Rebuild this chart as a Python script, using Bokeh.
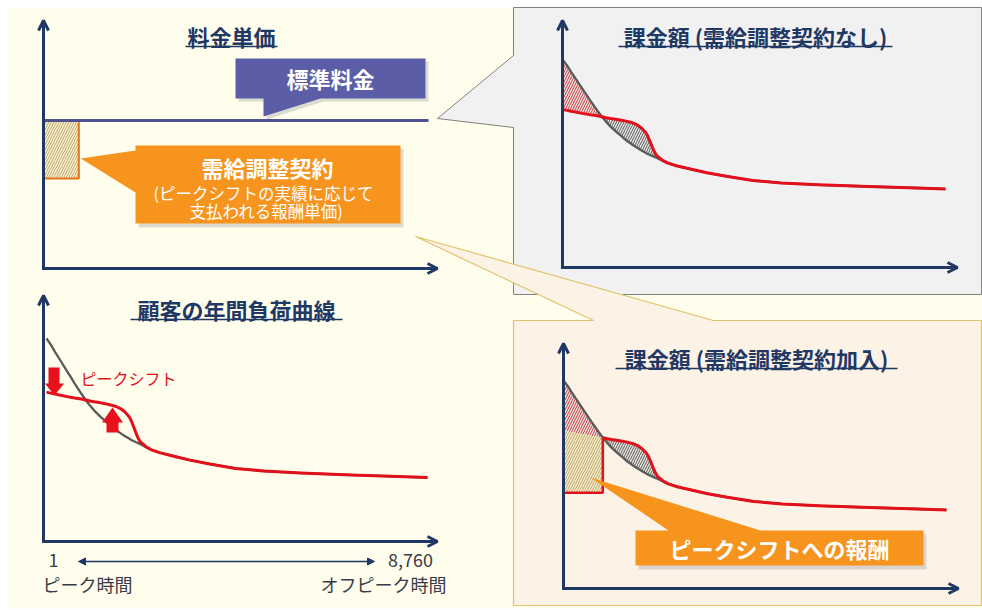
import numpy as np
from bokeh.plotting import figure
from bokeh.models import Range1d, Arrow, OpenHead, NormalHead
from bokeh.core.properties import value
from bokeh.embed import file_html
from bokeh.resources import INLINE

# ---------------- data ----------------
hours = [1, 100, 200, 300, 450, 550, 650, 800, 900, 1000, 1100, 1250, 1350, 1450,
         1600, 1700, 1800, 1900, 1950, 2000, 2050, 2100, 2150, 2300, 2400, 2600,
         2950, 3300, 3750, 4350, 5000, 5850, 7000, 8100, 8760]
load_original = [100, 97.0, 93.3, 89.9, 84.7, 81.3, 77.8, 72.9, 69.7, 67.0, 64.5,
                 61.3, 59.4, 57.4, 54.9, 53.4, 52.0, 50.7, 50.0, 49.5, 49.0, 48.5,
                 48.0, 46.3, 45.3, 43.8, 41.9, 40.1, 38.2, 36.0, 34.7, 33.7, 32.8,
                 32.0, 31.5]
load_shifted = [73.6, 73.1, 72.6, 72.2, 71.5, 71.1, 70.7, 70.2, 69.7, 69.2, 68.8,
                68.3, 67.9, 67.4, 66.5, 65.5, 63.9, 61.5, 59.5, 56.8, 53.9, 51.3,
                49.3, 46.5, 45.3, 43.8, 41.9, 40.1, 38.2, 36.0, 34.7, 33.7, 32.8,
                32.0, 31.5]
peak_shift_hours = 900      # hours where load is cut (peak)
rejoin_hours = 2300         # hours where shifted curve rejoins original
total_hours = 8760

panel_titles = ["料金単価", "顧客の年間負荷曲線",
                "課金額 (需給調整契約なし)", "課金額 (需給調整契約加入)"]
hour_tick_values = ["1", "8,760"]
hour_tick_names = ["ピーク時間", "オフピーク時間"]
rate_labels = ["標準料金", "需給調整契約",
               "(ピークシフトの実績に応じて", "支払われる報酬単価)"]
shift_label = "ピークシフト"
reward_label = "ピークシフトへの報酬"

# ---------------- style ----------------
NAVY = "#1F3864"
RED = "#E2101B"
GRAY = "#5A5A5A"
ORANGE = "#F7941E"
PURPLE = "#5B5EA6"
FONT = value("Noto Sans CJK JP")

# panel geometry: origin x, origin y, curve width, vertical scale, offset
PANELS = {
    "BL": (46, 541, 381, 2.03, 0),
    "TR": (562, 267, 383, 1.89, 19),
    "BR": (563, 588, 383, 1.89, 19),
}

H = np.array(hours, dtype=float)
LO = np.array(load_original, dtype=float)
LS = np.array(load_shifted, dtype=float)
i_peak = hours.index(peak_shift_hours)
i_join = hours.index(rejoin_hours)


def px(panel, h):
    ox, oy, w, s, off = PANELS[panel]
    return ox + (np.asarray(h, dtype=float) - 1) / (total_hours - 1) * w


def py(panel, load):
    ox, oy, w, s, off = PANELS[panel]
    return oy - off - s * np.asarray(load, dtype=float)


p = figure(width=982, height=610, x_range=Range1d(0, 982), y_range=Range1d(610, 0),
           toolbar_location=None, output_backend="svg", min_border=0,
           x_axis_location=None, y_axis_location=None)
p.grid.visible = False
p.outline_line_color = None
p.background_fill_color = "white"
p.border_fill_color = "white"

# backgrounds
p.quad(left=8, right=982, top=8, bottom=608, fill_color="#FFFDEC", line_color=None)
p.patch(x=[513, 981, 981, 513, 513, 437, 513], y=[7, 7, 294, 294, 127, 118, 55],
        fill_color="#F1F1F1", line_color="#808080", line_width=1)
p.patch(x=[513, 593, 415, 713, 981, 981, 513], y=[320, 320, 236, 320, 320, 605, 605],
        fill_color="#FCF2E6", line_color="#E0C46C", line_width=1.2)


def text(x, y, t, size, color, bold=False, align="center"):
    p.text(x=[x], y=[y], text=[t], text_font=FONT, text_font_size=value(f"{size}px"),
           text_font_style="bold" if bold else "normal", text_color=color,
           text_align=align, text_baseline="middle")


def title(x, y, t, half):
    text(x, y, t, 22, NAVY, bold=True)
    p.segment(x0=[x - half], x1=[x + half], y0=[y + 11], y1=[y + 11],
              line_color=NAVY, line_width=1.6)


def axes(ox, oy, top, right):
    p.add_layout(Arrow(end=OpenHead(size=10, line_color=NAVY, line_width=3),
                       x_start=ox, y_start=oy + 1.5, x_end=ox, y_end=top,
                       line_color=NAVY, line_width=3))
    p.add_layout(Arrow(end=OpenHead(size=10, line_color=NAVY, line_width=3),
                       x_start=ox - 1.5, y_start=oy, x_end=right, y_end=oy,
                       line_color=NAVY, line_width=3))


def hatch(xs, ys, fill, hcolor):
    p.patch(x=list(xs), y=list(ys), fill_color=fill, fill_alpha=1.0, line_color=None,
            hatch_pattern="/", hatch_color=hcolor, hatch_scale=5, hatch_weight=1)


# ---------------- top-left: rate ----------------
tl_rect_right = 43 + (peak_shift_hours - 1) / (total_hours - 1) * 383 - 4
hatch([43, tl_rect_right, tl_rect_right, 43], [120, 120, 178, 178], "#FBF5D6", "#B9A264")
p.line(x=[tl_rect_right, tl_rect_right, 43], y=[120, 178, 178], line_color="#E8731A", line_width=2)
p.line(x=[43, 428], y=[120, 120], line_color="#4F5290", line_width=3)

# purple callout
p.patch(x=[238, 428, 428, 323, 266, 266, 238], y=[61, 61, 101, 101, 119, 101, 101],
        fill_color="#9A9A9A", fill_alpha=0.35, line_color=None)
p.patch(x=[235, 425, 425, 320, 263, 263, 235], y=[58, 58, 98, 98, 116, 98, 98],
        fill_color=PURPLE, line_color=None)
text(330, 77, rate_labels[0], 22, "white", bold=True)

# orange callout
p.patch(x=[138, 403, 403, 138], y=[148, 148, 227, 227],
        fill_color="#9A9A9A", fill_alpha=0.35, line_color=None)
p.patch(x=[135, 400, 400, 135, 135, tl_rect_right + 2, 135],
        y=[145, 145, 223, 223, 192, 158, 150], fill_color=ORANGE, line_color=None)
text(267, 166, rate_labels[1], 22, "white", bold=True)
text(263, 192, rate_labels[2], 16.5, "white")
text(266, 210, rate_labels[3], 16.5, "white")

title(231, 35, panel_titles[0], 46)
axes(43, 268, 20, 437)

# ---------------- bottom-left: load curve ----------------
p.line(x=px("BL", H), y=py("BL", LO), line_color=GRAY, line_width=2.3)
p.line(x=px("BL", H), y=py("BL", LS), line_color=RED, line_width=3, line_join="round")
# peak shift arrows
p.patch(x=[48, 59, 59, 63.5, 54, 44.5, 48], y=[367, 367, 383, 383, 395, 383, 383],
        fill_color="#E8101A", line_color=None)
p.patch(x=[112, 122.5, 118, 118, 106, 106, 101.5], y=[407, 422, 422, 432, 432, 422, 422],
        fill_color="#E8101A", line_color=None)
text(80, 377, shift_label, 16, RED, align="left")

title(236, 308, panel_titles[1], 106)
axes(43, 541, 295, 437)

text(53, 559, hour_tick_values[0], 18, "#3A3A48")
text(410, 559, hour_tick_values[1], 18, "#3A3A48")
text(42, 583, hour_tick_names[0], 18, "#3A3A48", align="left")
text(446, 583, hour_tick_names[1], 18, "#3A3A48", align="right")
p.add_layout(Arrow(start=NormalHead(size=7, fill_color=NAVY, line_color=NAVY),
                   end=NormalHead(size=7, fill_color=NAVY, line_color=NAVY),
                   x_start=78, y_start=561, x_end=374, y_end=561,
                   line_color=NAVY, line_width=1.3))

# ---------------- top-right: billing without contract ----------------
xr = px("TR", H)
hatch(list(xr[:i_peak + 1]) + list(xr[:i_peak + 1][::-1]),
      list(py("TR", LO[:i_peak + 1])) + list(py("TR", LS[:i_peak + 1])[::-1]),
      "#F4E3E1", "#B83A3A")
hatch(list(xr[i_peak:i_join + 1]) + list(xr[i_peak:i_join + 1][::-1]),
      list(py("TR", LS[i_peak:i_join + 1])) + list(py("TR", LO[i_peak:i_join + 1])[::-1]),
      "#E8E8E8", "#555555")
p.line(x=xr, y=py("TR", LO), line_color=GRAY, line_width=2.3)
p.line(x=xr, y=py("TR", LS), line_color=RED, line_width=3, line_join="round")
title(755, 35, panel_titles[2], 137)
axes(562, 267, 20, 957)

# ---------------- bottom-right: billing with contract ----------------
xb = px("BR", H)
yb_cut = py("BR", LS[:i_peak + 1])
reward_bottom = float(yb_cut[-1]) + 55
hatch(list(xb[:i_peak + 1]) + list(xb[:i_peak + 1][::-1]),
      list(py("BR", LO[:i_peak + 1])) + list(yb_cut[::-1]),
      "#F4E3E1", "#B83A3A")
hatch(list(xb[:i_peak + 1]) + [xb[i_peak], xb[0]],
      list(yb_cut) + [reward_bottom, reward_bottom],
      "#F8EFD0", "#B9A264")
hatch(list(xb[i_peak:i_join + 1]) + list(xb[i_peak:i_join + 1][::-1]),
      list(py("BR", LS[i_peak:i_join + 1])) + list(py("BR", LO[i_peak:i_join + 1])[::-1]),
      "#ECE6E0", "#555555")
p.line(x=xb, y=py("BR", LO), line_color=GRAY, line_width=2.3)
p.line(x=xb[i_peak:], y=py("BR", LS[i_peak:]), line_color=RED, line_width=3, line_join="round")
p.line(x=[xb[i_peak], xb[i_peak], xb[0]], y=[yb_cut[-1], reward_bottom, reward_bottom],
       line_color=RED, line_width=2.5)

# reward callout
p.patch(x=[638, 926, 926, 638], y=[534, 534, 569, 569],
        fill_color="#9A9A9A", fill_alpha=0.35, line_color=None)
p.patch(x=[635, 668, 590, 760, 923, 923, 635], y=[530, 530, 477, 530, 530, 565, 565],
        fill_color=ORANGE, line_color=None)
text(779, 547, reward_label, 22, "white", bold=True)

title(756, 357, panel_titles[3], 141)
axes(563, 588, 343, 958)

open("out.html", "w").write(file_html(p, INLINE))
